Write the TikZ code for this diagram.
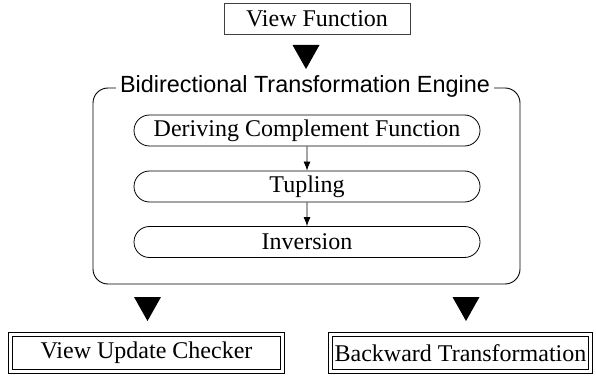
\documentclass[tikz,border=0pt]{standalone}
\usepackage{fontspec}
\setmainfont{Liberation Serif}
\newfontfamily\titlefont{Liberation Sans}
\usetikzlibrary{arrows.meta,shapes.misc}

\tikzset{
  txt/.style={font=\fontsize{24}{28}\selectfont},
  plainbox/.style={txt, draw=black!75, line width=0.9pt, inner sep=0pt},
  twinbox/.style={txt, draw=black, double, double distance=3.4pt, line width=0.7pt, inner sep=0pt},
  stage/.style={txt, draw, line width=0.8pt, rounded rectangle, minimum width=346pt, minimum height=31pt, inner sep=0pt},
  engine/.style={draw, line width=0.9pt, rounded corners=15pt, minimum width=427pt, minimum height=196pt},
  flow/.style={line width=0.8pt, -{Latex[length=9pt,width=7pt]}},
  bigtip/.style={fill=black}
}

\begin{document}
\begin{tikzpicture}[x=1pt,y=-1pt]
  \useasboundingbox (0,0) rectangle (596,379);

  % input
  \node[plainbox, minimum width=186pt, minimum height=31pt] (vf) at (317,18.5) {View Function};

  % engine frame and its title
  \node[engine] (eng) at (306.5,186) {};
  \node[fill=white, inner xsep=4pt, inner ysep=1pt, font=\titlefont\fontsize{23.4}{27}\selectfont] (engt) at (305,86.5) {Bidirectional Transformation Engine};

  % stages inside the engine
  \node[stage] (der) at (307,130.5) {Deriving Complement Function};
  \node[stage] (tup) at (307,186.5) {Tupling};
  \node[stage] (inv) at (307,242) {Inversion};
  \draw[flow] (der) -- (tup);
  \draw[flow] (tup) -- (inv);

  % outputs
  \node[twinbox, minimum width=272pt, minimum height=37pt] (vuc) at (146.5,353) {View Update Checker};
  \node[twinbox, minimum width=260pt, minimum height=37pt] (bwt) at (460.5,353) {Backward Transformation};

  % block arrows between the stages of the pipeline
  \coordinate (a1) at (306,45);
  \coordinate (a2) at (147.5,297);
  \coordinate (a3) at (466,297);
  \foreach \c in {a1,a2,a3}
    \fill[bigtip] (\c) ++(-13.5,0) -- ++(27,0) -- ++(-13.5,24) -- cycle;
\end{tikzpicture}
\end{document}
